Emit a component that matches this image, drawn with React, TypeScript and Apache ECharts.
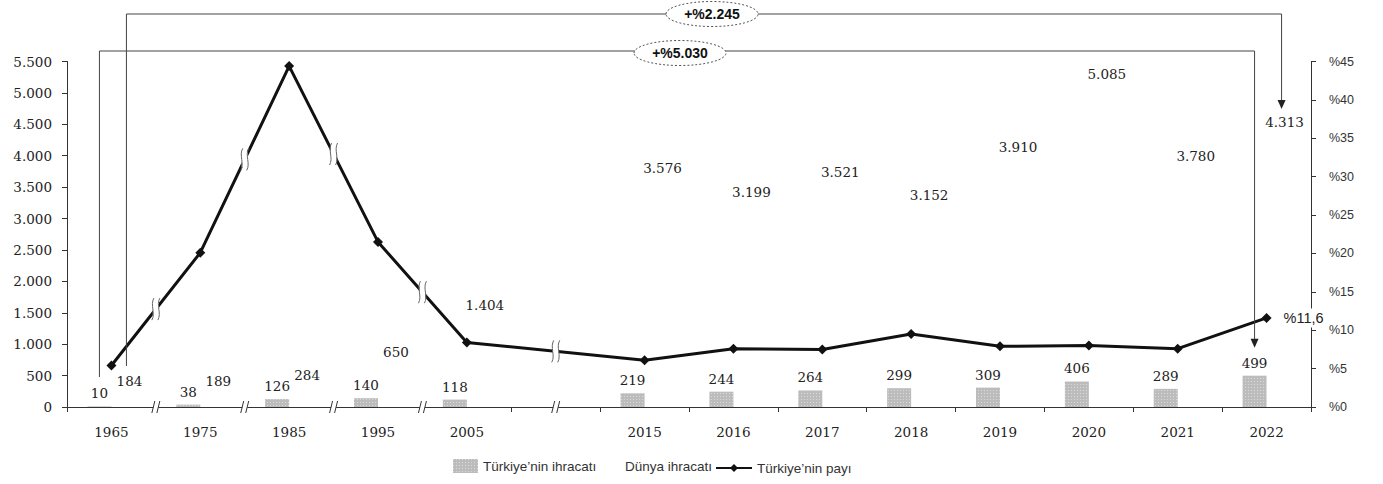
import React, { useEffect, useRef } from "react";
import * as echarts from "echarts";

const categories = ["1965", "1975", "1985", "1995", "2005", "", "2015", "2016", "2017", "2018", "2019", "2020", "2021", "2022"];
const turkiyeExports = [10, 38, 126, 140, 118, null, 219, 244, 264, 299, 309, 406, 289, 499];
const worldExports = [184, 189, 284, 650, 1404, null, 3576, 3199, 3521, 3152, 3910, 5085, 3780, 4313];
const turkiyeShare = [5.4, 20.1, 44.4, 21.5, 8.4, null, 6.1, 7.6, 7.5, 9.5, 7.9, 8.0, 7.6, 11.6];
const shareLabelText = "%11,6";
const leftAxis = { min: 0, max: 5500, interval: 500 };
const rightAxis = { min: 0, max: 45, interval: 5 };
const growthLabels = ["+%2.245", "+%5.030"];
const seriesNames = ["Türkiye\u2019nin ihracatı", "Dünya ihracatı", "Türkiye\u2019nin payı"];

const fmt = (v: any) => (v == null ? "" : String(v).replace(/\B(?=(\d{3})+(?!\d))/g, "."));
const serif = '"DejaVu Serif", serif';
const sans = '"Liberation Sans", Arial, sans-serif';

export default function App() {
  const ref = useRef<HTMLDivElement>(null);
  useEffect(() => {
    if (!ref.current) return;
    const chart = echarts.init(ref.current, null, { renderer: "svg" });
    const last = turkiyeShare.length - 1;
    const shareData = turkiyeShare.map((v, i) =>
      i === last
        ? {
            value: v,
            label: {
              show: true,
              position: "right",
              distance: 11,
              formatter: shareLabelText,
              backgroundColor: "#fff",
              padding: [2, 1],
              fontFamily: sans,
              fontSize: 14.5,
              color: "#222",
            },
          }
        : v
    );
    const labelBase = { fontFamily: serif, fontSize: 13.5, color: "#222" };
    const legendText = { fontFamily: sans, fontSize: 13.5, color: "#333" };
    const option: any = {
      animation: false,
      backgroundColor: "#fff",
      grid: { left: 67, right: 72, top: 61.5, bottom: 77, containLabel: false },
      legend: [
        {
          data: [{ name: seriesNames[0], icon: "rect" }],
          left: 448, top: 454, itemWidth: 25, itemHeight: 14,
          textStyle: legendText,
          selectedMode: false,
        },
        {
          data: [{ name: seriesNames[1], icon: "rect" }],
          left: 615, top: 454, itemWidth: 0, itemHeight: 14,
          textStyle: legendText,
          selectedMode: false,
        },
        {
          data: [{ name: seriesNames[2] }],
          left: 710, top: 456, itemWidth: 36, itemHeight: 10,
          textStyle: legendText,
          selectedMode: false,
        },
      ],
      xAxis: {
        type: "category",
        data: categories,
        boundaryGap: true,
        axisLine: { show: true, lineStyle: { color: "#333", width: 1 } },
        axisTick: {
          show: true,
          length: 5,
          interval: (i: number) => !(i >= 1 && i <= 4),
          lineStyle: { color: "#333" },
        },
        axisLabel: { interval: 0, margin: 18, ...labelBase },
      },
      yAxis: [
        {
          type: "value",
          ...leftAxis,
          axisLine: { show: true, lineStyle: { color: "#333" } },
          axisTick: { show: true, length: 5, lineStyle: { color: "#333" } },
          splitLine: { show: false },
          axisLabel: { formatter: (v: number) => fmt(v), margin: 15, ...labelBase },
        },
        {
          type: "value",
          position: "right",
          ...rightAxis,
          axisLine: { show: true, lineStyle: { color: "#333" } },
          axisTick: { show: true, length: 5, lineStyle: { color: "#333" } },
          splitLine: { show: false },
          axisLabel: { formatter: (v: number) => "%" + v, margin: 18, fontFamily: sans, fontSize: 12.5, color: "#333" },
        },
      ],
      series: [
        {
          name: seriesNames[0],
          type: "bar",
          data: turkiyeExports,
          barWidth: 24,
          barGap: "0%",
          itemStyle: {
            color: "#bcbcbc",
            decal: { symbol: "rect", symbolSize: 1, color: "rgba(255,255,255,0.45)", dashArrayX: [1, 2], dashArrayY: [1, 2], rotation: 0 },
          },
          label: { show: true, position: "top", distance: 6, formatter: (p: any) => fmt(p.value), ...labelBase },
        },
        {
          name: seriesNames[1],
          type: "bar",
          data: worldExports,
          barWidth: 24,
          itemStyle: { color: "rgba(0,0,0,0)" },
          label: { show: true, position: "top", distance: 7, offset: [6, 0], formatter: (p: any) => fmt(p.value), ...labelBase },
        },
        {
          name: seriesNames[2],
          type: "line",
          yAxisIndex: 1,
          data: shareData,
          connectNulls: true,
          symbol: "diamond",
          symbolSize: 10,
          lineStyle: { color: "#111", width: 3 },
          itemStyle: { color: "#111" },
          z: 5,
        },
      ],
    };
    chart.setOption(option);

    const xPx = (i: number) => chart.convertToPixel({ xAxisIndex: 0 }, i) as number;
    const yL = (v: number) => chart.convertToPixel({ yAxisIndex: 0 }, v) as number;
    const yR = (v: number) => chart.convertToPixel({ yAxisIndex: 1 }, v) as number;
    const y0 = yL(0);
    const g: any[] = [];
    const stroke = "#444";

    // brackets
    const xUL = xPx(0) + 15, xLL = xPx(0) - 12;
    const xUR = xPx(last) + 15, xLR = xPx(last) - 12;
    const yU = 14, yLo = 51;
    const tipU = yL(worldExports[last] as number) - 27;
    const tipL = yL(turkiyeExports[last] as number) - 28;
    g.push({ type: "polyline", z: 20, shape: { points: [[xUL, y0 - 41], [xUL, yU], [xUR, yU], [xUR, tipU - 8]] }, style: { stroke, lineWidth: 1, fill: "none" } });
    g.push({ type: "polyline", z: 20, shape: { points: [[xLL, y0 - 30], [xLL, yLo], [xLR, yLo], [xLR, tipL - 8]] }, style: { stroke, lineWidth: 1, fill: "none" } });
    g.push({ type: "polygon", z: 20, shape: { points: [[xUR - 4, tipU - 9], [xUR + 4, tipU - 9], [xUR, tipU]] }, style: { fill: "#222" } });
    g.push({ type: "polygon", z: 20, shape: { points: [[xLR - 4, tipL - 9], [xLR + 4, tipL - 9], [xLR, tipL]] }, style: { fill: "#222" } });
    const ovals = [
      { cx: 712, cy: yU, text: growthLabels[0] },
      { cx: 680, cy: yLo + 2, text: growthLabels[1] },
    ];
    ovals.forEach((o) => {
      g.push({ type: "ellipse", z: 21, shape: { cx: o.cx, cy: o.cy, rx: 46, ry: 12.5 }, style: { fill: "#fff", stroke: "#555", lineWidth: 1, lineDash: [2, 2] } });
      g.push({ type: "text", z: 22, x: o.cx, y: o.cy, style: { text: o.text, fill: "#111", fontFamily: sans, fontSize: 14, fontWeight: "bold", align: "center", verticalAlign: "middle" } });
    });

    // breaks on the line
    const pairs = [[0, 1], [1, 2], [2, 3], [3, 4], [4, 6]];
    pairs.forEach(([a, b]) => {
      const cx = (xPx(a) + xPx(b)) / 2;
      const cy = (yR(turkiyeShare[a] as number) + yR(turkiyeShare[b] as number)) / 2;
      g.push({ type: "rect", z: 30, shape: { x: cx - 3, y: cy - 8, width: 6, height: 16 }, style: { fill: "#fff" } });
      [-3, 3].forEach((dx) => {
        const x = cx + dx;
        g.push({
          type: "bezierCurve", z: 31,
          shape: { x1: x + 1, y1: cy - 11, x2: x - 1, y2: cy + 11, cpx1: x - 3, cpy1: cy - 4, cpx2: x + 3, cpy2: cy + 4 },
          style: { stroke: "#666", lineWidth: 1, fill: "none" },
        });
      });
    });

    // breaks on the x axis
    const axisBreaks = [1, 2, 3, 4].map((i) => (xPx(i - 1) + xPx(i)) / 2).concat([xPx(5)]);
    axisBreaks.forEach((bx) => {
      g.push({ type: "rect", z: 30, shape: { x: bx - 2.5, y: y0 - 2, width: 5, height: 4 }, style: { fill: "#fff" } });
      g.push({ type: "line", z: 31, shape: { x1: bx - 4, y1: y0 + 6, x2: bx - 1, y2: y0 - 6 }, style: { stroke: "#333", lineWidth: 1 } });
      g.push({ type: "line", z: 31, shape: { x1: bx + 1, y1: y0 + 6, x2: bx + 4, y2: y0 - 6 }, style: { stroke: "#333", lineWidth: 1 } });
    });

    chart.setOption({ graphic: g });
    return () => chart.dispose();
  }, []);

  return <div ref={ref} style={{ position: "fixed", left: 0, top: 0, width: 1383, height: 484, background: "#fff" }} />;
}
